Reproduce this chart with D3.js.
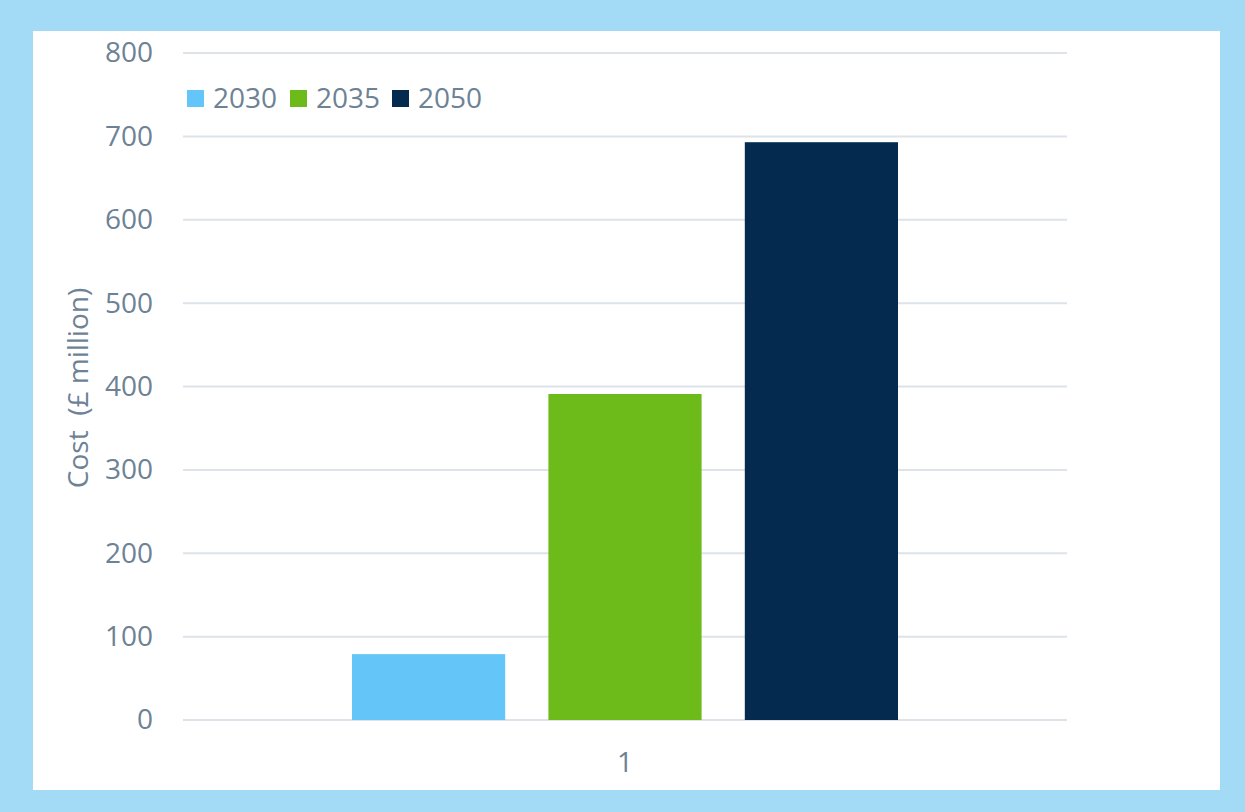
<!DOCTYPE html>
<html>
<head>
    <style>
        body { margin: 0; background: #a3dbf7; }
        .tick text, .legend text, .axis-label { fill: #6d8295; font-family: "Open Sans", sans-serif; }
    </style>
    <script src="https://d3js.org/d3.v7.min.js"></script>
</head>
<body>
    <div id="chart"></div>

    <script>
        // Chart values
        const categories = ["1"];
        const seriesNames = ["2030", "2035", "2050"];
        const seriesValues = [79, 391, 693];
        const seriesColors = ["#63c5f8", "#6cbb1a", "#052a4f"];
        const yTicks = [0, 100, 200, 300, 400, 500, 600, 700, 800];

        const W = 1245, H = 812;
        const plot = { left: 183, right: 1067, top: 53, bottom: 720 };

        const svg = d3.select("#chart").append("svg")
            .attr("width", W)
            .attr("height", H);

        // white panel inside the light blue frame
        svg.append("rect")
            .attr("x", 33).attr("y", 31)
            .attr("width", 1220 - 33).attr("height", 790 - 31)
            .attr("fill", "#ffffff");

        const yScale = d3.scaleLinear()
            .domain([0, 800])
            .range([plot.bottom, plot.top]);

        const x0 = d3.scaleBand()
            .domain(categories)
            .range([plot.left, plot.right])
            .paddingInner(0)
            .paddingOuter(0.3095);

        const x1 = d3.scaleBand()
            .domain(seriesNames)
            .range([0, x0.bandwidth()])
            .paddingInner(0.22)
            .paddingOuter(0);

        // gridlines
        svg.append("g")
            .selectAll("line")
            .data(yTicks)
            .join("line")
            .attr("x1", plot.left)
            .attr("x2", plot.right)
            .attr("y1", d => yScale(d))
            .attr("y2", d => yScale(d))
            .attr("stroke", "#dde3e8")
            .attr("stroke-width", 2);

        // y axis labels
        const yAxis = d3.axisLeft(yScale).tickValues(yTicks).tickSize(0).tickPadding(30);
        svg.append("g")
            .attr("transform", `translate(${plot.left},0)`)
            .call(yAxis)
            .call(g => g.select(".domain").remove())
            .selectAll("text")
            .style("font-size", "28px");

        // x axis labels
        const xAxis = d3.axisBottom(x0).tickSize(0).tickPadding(32);
        svg.append("g")
            .attr("transform", `translate(0,${plot.bottom})`)
            .call(xAxis)
            .call(g => g.select(".domain").remove())
            .selectAll("text")
            .style("font-size", "28px");

        // bars
        const group = svg.append("g")
            .selectAll("g")
            .data(categories)
            .join("g")
            .attr("transform", d => `translate(${x0(d)},0)`);

        group.selectAll("rect")
            .data(seriesNames.map((s, i) => ({ name: s, value: seriesValues[i], color: seriesColors[i] })))
            .join("rect")
            .attr("x", d => x1(d.name))
            .attr("y", d => yScale(d.value))
            .attr("width", x1.bandwidth())
            .attr("height", d => yScale(0) - yScale(d.value))
            .attr("fill", d => d.color);

        // y axis title
        svg.append("text")
            .attr("class", "axis-label")
            .attr("transform", "translate(88,388) rotate(-90)")
            .attr("text-anchor", "middle")
            .style("font-size", "28px")
            .style("white-space", "pre")
            .attr("xml:space", "preserve")
            .text("Cost  (£ million)");

        // legend
        const legendX = [187, 290, 392];
        const legend = svg.append("g").attr("class", "legend")
            .selectAll("g")
            .data(seriesNames)
            .join("g")
            .attr("transform", (d, i) => `translate(${legendX[i]},90)`);

        legend.append("rect")
            .attr("width", 17).attr("height", 17)
            .attr("fill", (d, i) => seriesColors[i]);

        legend.append("text")
            .attr("x", 26)
            .attr("y", 18)
            .style("font-size", "28px")
            .text(d => d);
    </script>
</body>
</html>
